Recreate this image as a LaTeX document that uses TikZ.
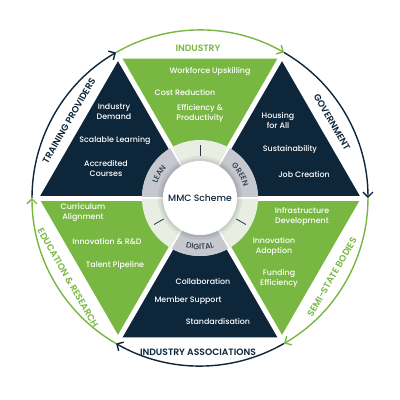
\documentclass[tikz,border=0pt]{standalone}
\usepackage{fontspec}
\setmainfont{Poppins}
\newfontfamily\pmed{Poppins Medium}
\newfontfamily\psemi{Poppins SemiBold}
\usetikzlibrary{arrows.meta,decorations.text}
\definecolor{mgreen}{RGB}{120,184,66}
\definecolor{mnavy}{RGB}{14,38,58}
\definecolor{ringgrey}{RGB}{198,200,208}
\definecolor{ringpale}{RGB}{232,239,226}
\definecolor{ringtxt}{RGB}{40,52,66}
\begin{document}
\begin{tikzpicture}[x=1pt,y=1pt,
  itm/.style={text=white,font=\pmed\fontsize{7.9}{10}\selectfont,align=center,inner sep=0pt},
  lbl/.style={font=\psemi\fontsize{9.2}{11}\selectfont,inner sep=0pt},
  ringtext/.style={decorate,decoration={text along path,text align=center,text color=ringtxt,
     text={|\pmed\fontsize{7.8}{8}\selectfont|#1}}},
  arcline/.style={line width=1.4pt,-{Straight Barb[length=5pt,width=10pt,line width=1.4pt]}},
  gap/.style={white,line width=5pt},
  tickmark/.style={ringtxt,line width=0.8pt}]
\useasboundingbox (-200,-202) rectangle (200,198);
\fill[white] (-200,-202) rectangle (200,198);
\coordinate (O) at (0,0);
\foreach \a in {0,60,...,300} {\coordinate (v\a) at (\a:161);}
% triangles
\fill[mgreen] (O) -- (v60) -- (v120) -- cycle;
\fill[mnavy] (O) -- (v120) -- (v180) -- cycle;
\fill[mgreen] (O) -- (v180) -- (v240) -- cycle;
\fill[mnavy] (O) -- (v240) -- (v300) -- cycle;
\fill[mgreen] (O) -- (v300) -- (v0) -- cycle;
\fill[mnavy] (O) -- (v0) -- (v60) -- cycle;
\foreach \a in {0,60,...,300} {\draw[gap] (O) -- (\a:166);}
% ring
\fill[ringpale] (O) circle (58);
\foreach \a in {0,120,240} {
  \fill[ringgrey] (\a:58) arc[start angle=\a,end angle=\a+60,radius=58]
    -- (\a+60:37) arc[start angle=\a+60,end angle=\a,radius=37] -- cycle;}
\foreach \a in {0,60,...,300} {\draw[white,line width=1.5pt] (\a:36) -- (\a:58.5);}
\foreach \a in {90,210,330} {\draw[tickmark] (\a:42) -- (\a:53);}
\fill[black,opacity=0.06] (O) circle (42);
\fill[black,opacity=0.07] (O) circle (39.5);
\fill[white] (O) circle (37);
\path[ringtext=LEAN] (178:45) arc[start angle=178,end angle=122,radius=45];
\path[ringtext=GREEN] (58:45) arc[start angle=58,end angle=2,radius=45];
\path[ringtext=DIGITAL] (238:51.5) arc[start angle=238,end angle=302,radius=51.5];
\node[font=\pmed\fontsize{9.2}{11}\selectfont,text=mnavy] (mmc) at (0,0) {MMC Scheme};
% triangle texts
\node[itm] (t1) at (10,126) {Workforce Upskilling};
\node[itm] (t2) at (-15,106) {Cost Reduction};
\node[itm] (t3) at (0,84.5) {Efficiency \&\\Productivity};
\node[itm] (t4) at (-86,86) {Industry\\Demand};
\node[itm] (t5) at (-85,57) {Scalable Learning};
\node[itm] (t6) at (-94,30) {Accredited\\Courses};
\node[itm] (t7) at (78,78) {Housing\\for All};
\node[itm] (t8) at (90,49) {Sustainability};
\node[itm] (t9) at (104,24) {Job Creation};
\node[itm] (t10) at (-117,-15) {Curriculum\\Alignment};
\node[itm] (t11) at (-93,-44) {Innovation \& R\&D};
\node[itm] (t12) at (-85,-67) {Talent Pipeline};
\node[itm] (t13) at (102,-18) {Infrastructure\\Development};
\node[itm] (t14) at (74,-48) {Innovation\\Adoption};
\node[itm] (t15) at (79,-80) {Funding\\Efficiency};
\node[itm] (t16) at (3,-83) {Collaboration};
\node[itm] (t17) at (-12,-103) {Member Support};
\node[itm] (t18) at (18,-123) {Standardisation};
% outer arcs
\foreach \a in {0,60,...,300} {\coordinate (c\a) at (\a:168);}
\draw[arcline,mnavy] (c180) arc[start angle=180,end angle=120,radius=168];
\draw[arcline,mgreen] (c120) arc[start angle=120,end angle=60,radius=168];
\draw[arcline,mnavy] (c60) arc[start angle=60,end angle=0,radius=168];
\draw[arcline,mgreen] (c0) arc[start angle=360,end angle=300,radius=168];
\draw[arcline,mnavy] (c300) arc[start angle=300,end angle=240,radius=168];
\draw[arcline,mgreen] (c240) arc[start angle=240,end angle=180,radius=168];
% labels
\node[lbl,text=mgreen] (lind) at (-2,150) {INDUSTRY};
\node[lbl,text=mnavy] (lassoc) at (-2,-154) {INDUSTRY ASSOCIATIONS};
\node[lbl,text=mnavy,rotate=60] (ltrain) at (-131,77) {TRAINING PROVIDERS};
\node[lbl,text=mnavy,rotate=-60] (lgov) at (132,76) {GOVERNMENT};
\node[lbl,text=mgreen,rotate=-60] (ledu) at (-132,-80) {EDUCATION \& RESEARCH};
\node[lbl,text=mgreen,rotate=60] (lsemi) at (132,-79) {SEMI-STATE BODIES};
\end{tikzpicture}
\end{document}
